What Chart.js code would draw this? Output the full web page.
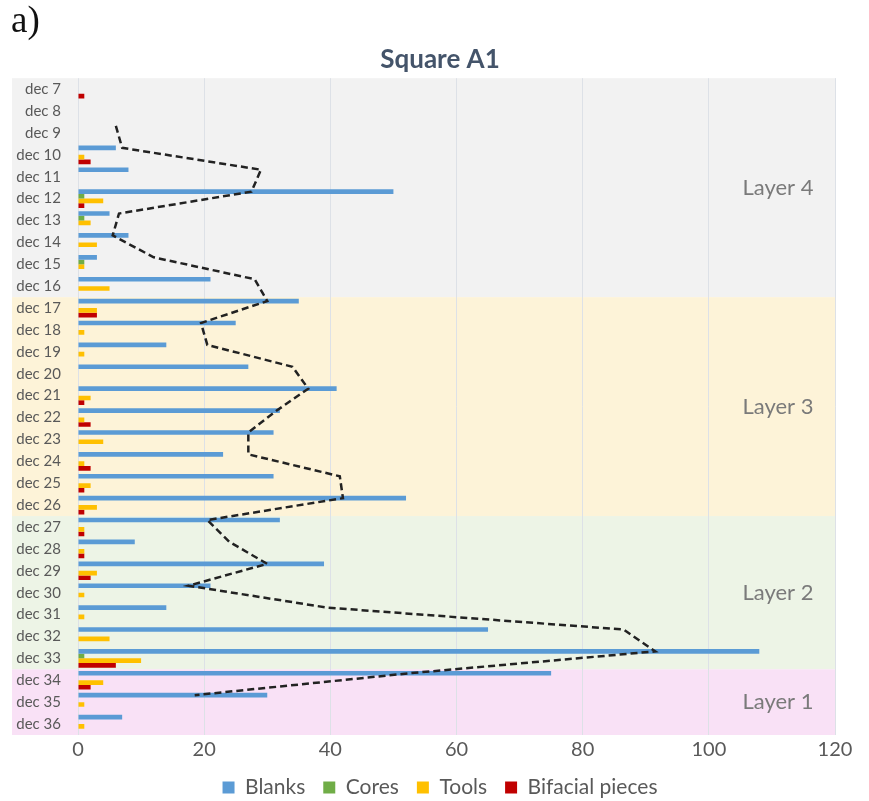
<!DOCTYPE html>
<html>
<head>
<meta charset="utf-8">
<script src="https://cdn.jsdelivr.net/npm/chart.js@4.4.1/dist/chart.umd.min.js"></script>
<style>
  html, body { margin: 0; padding: 0; background: #ffffff; overflow: hidden; }
  #wrap { position: relative; width: 869px; height: 801px; overflow: hidden; }
  #panel { position: absolute; left: 11px; top: -2px; font-family: "Liberation Serif", "DejaVu Serif", serif; font-size: 37px; color: #111; }
  canvas { position: absolute; left: 0; top: 0; }
</style>
</head>
<body>
<div id="wrap">
  <canvas id="c" width="880" height="812"></canvas>
  <div id="panel">a)</div>
</div>
<script>
// ---- data ----
const categories = ['dec 7','dec 8','dec 9','dec 10','dec 11','dec 12','dec 13','dec 14','dec 15','dec 16',
  'dec 17','dec 18','dec 19','dec 20','dec 21','dec 22','dec 23','dec 24','dec 25','dec 26',
  'dec 27','dec 28','dec 29','dec 30','dec 31','dec 32','dec 33','dec 34','dec 35','dec 36'];
const blanks   = [0, 0, 0, 6, 8, 50, 5, 8, 3, 21, 35, 25, 14, 27, 41, 32, 31, 23, 31, 52, 32, 9, 39, 21, 14, 65, 108, 75, 30, 7];
const cores    = [0, 0, 0, 0, 0, 1, 1, 0, 1, 0, 0, 0, 0, 0, 0, 0, 0, 0, 0, 0, 0, 0, 0, 0, 0, 0, 1, 0, 0, 0];
const tools    = [0, 0, 0, 1, 0, 4, 2, 3, 1, 5, 3, 1, 1, 0, 2, 1, 4, 1, 2, 3, 1, 1, 3, 1, 1, 5, 10, 4, 1, 1];
const bifacial = [1, 0, 0, 2, 0, 1, 0, 0, 0, 0, 3, 0, 0, 0, 1, 2, 0, 2, 1, 1, 1, 1, 2, 0, 0, 0, 6, 2, 0, 0];
// dashed trend line
const trend    = [null, null, 6, 7, 29, 27.5, 6.5, 5.5, 12, 28, 30, 19.5, 20.5, 34, 36.5, 31.5, 27, 27, 41.5, 42, 20.5, 24, 30, 17.5, 39.5, 86.5, 91.5, 52.5, 18.5, null];
const xTicks   = [0, 20, 40, 60, 80, 100, 120];
const layerNames = ['Layer 4', 'Layer 3', 'Layer 2', 'Layer 1'];
const layerFrom  = ['dec 7', 'dec 17', 'dec 27', 'dec 34'];
const layerTo    = ['dec 16', 'dec 26', 'dec 33', 'dec 36'];
const seriesNames = ['Blanks', 'Cores', 'Tools', 'Bifacial pieces'];

// ---- styles ----
const seriesColors = ['#5b9bd5', '#70ad47', '#ffc000', '#c00000'];
const layerColors  = ['#f2f2f2', '#fdf3d8', '#edf4e6', '#f9e1f6'];
const FONT = 'Lato, "Open Sans", "Liberation Sans", sans-serif';
const CAT_PCT = 0.85;
const TREND_INDEX = 4;

const bandsPlugin = {
  id: 'bands',
  beforeDraw(chart) {
    const { ctx, chartArea } = chart;
    const y = chart.scales.y;
    const half = (y.getPixelForValue(1) - y.getPixelForValue(0)) / 2;
    ctx.save();
    layerNames.forEach((name, i) => {
      const a = categories.indexOf(layerFrom[i]);
      const b = categories.indexOf(layerTo[i]);
      const top = y.getPixelForValue(a) - half;
      const bot = y.getPixelForValue(b) + half;
      ctx.fillStyle = layerColors[i];
      ctx.fillRect(12, top, chartArea.right + 1 - 12, bot - top);
    });
    ctx.restore();
  },
  beforeDatasetsDraw(chart) {
    const { ctx } = chart;
    const y = chart.scales.y;
    const half = (y.getPixelForValue(1) - y.getPixelForValue(0)) / 2;
    ctx.save();
    ctx.font = '22px ' + FONT;
    ctx.fillStyle = '#7a7a7a';
    ctx.textAlign = 'center';
    ctx.textBaseline = 'middle';
    layerNames.forEach((name, i) => {
      const a = categories.indexOf(layerFrom[i]);
      const b = categories.indexOf(layerTo[i]);
      const mid = (y.getPixelForValue(a) - half + y.getPixelForValue(b) + half) / 2;
      ctx.fillText(name, 778, mid);
    });
    ctx.restore();
  },
  // the moving-average line sits on the Blanks bar of each group, as in the original
  beforeDatasetDraw(chart, args) {
    if (args.index !== TREND_INDEX) return;
    const meta = chart.getDatasetMeta(0);
    const y = chart.scales.y;
    const shift = meta.data[0].y - y.getPixelForValue(0);
    chart.ctx.save();
    chart.ctx.translate(0, shift);
  },
  afterDatasetDraw(chart, args) {
    if (args.index !== TREND_INDEX) return;
    chart.ctx.restore();
  }
};

const barSets = [blanks, cores, tools, bifacial].map((arr, i) => ({
  type: 'bar',
  label: seriesNames[i],
  data: arr,
  backgroundColor: seriesColors[i],
  borderWidth: 0,
  categoryPercentage: CAT_PCT,
  barPercentage: 1.0,
  order: 2
}));

const trendSet = {
  type: 'line',
  label: 'trend',
  data: trend.map((v, i) => ({ x: v, y: categories[i] })),
  borderColor: '#222222',
  borderWidth: 2.5,
  borderDash: [7, 4],
  pointRadius: 0,
  fill: false,
  tension: 0,
  spanGaps: false,
  order: 1
};

new Chart(document.getElementById('c'), {
  type: 'bar',
  data: { labels: categories, datasets: [...barSets, trendSet] },
  options: {
    indexAxis: 'y',
    responsive: false,
    animation: false,
    devicePixelRatio: 1,
    layout: { padding: { left: 0, right: 0, top: 0, bottom: 4 } },
    plugins: {
      title: {
        display: true,
        text: 'Square A1',
        color: '#44546a',
        font: { family: FONT, size: 26, weight: 'bold' },
        padding: { top: 44, bottom: 3 }
      },
      legend: {
        position: 'bottom',
        labels: {
          color: '#595959',
          font: { family: FONT, size: 21 },
          boxWidth: 12,
          boxHeight: 12,
          padding: 18,
          filter: item => item.text !== 'trend'
        }
      },
      tooltip: { enabled: false }
    },
    scales: {
      x: {
        type: 'linear',
        position: 'bottom',
        min: 0,
        max: 120,
        afterBuildTicks: s => { s.ticks = xTicks.map(v => ({ value: v })); },
        ticks: { color: '#595959', font: { family: FONT, size: 20 }, padding: 3 },
        grid: { color: '#dde1e7', lineWidth: 1, drawTicks: false },
        border: { display: false },
        afterFit: s => { s.height = 24; }
      },
      y: {
        type: 'category',
        position: 'left',
        offset: true,
        ticks: { color: '#595959', font: { family: FONT, size: 15 }, padding: 17, autoSkip: false },
        grid: { display: false, drawTicks: false },
        border: { display: false },
        afterFit: s => { s.width = 78; }
      },
      // empty right-hand margin so that title and legend are centred as in the original
      yRight: {
        type: 'category',
        position: 'right',
        ticks: { display: false },
        grid: { display: false, drawTicks: false },
        border: { display: false },
        afterFit: s => { s.width = 45; }
      }
    }
  },
  plugins: [bandsPlugin]
});
</script>
</body>
</html>
